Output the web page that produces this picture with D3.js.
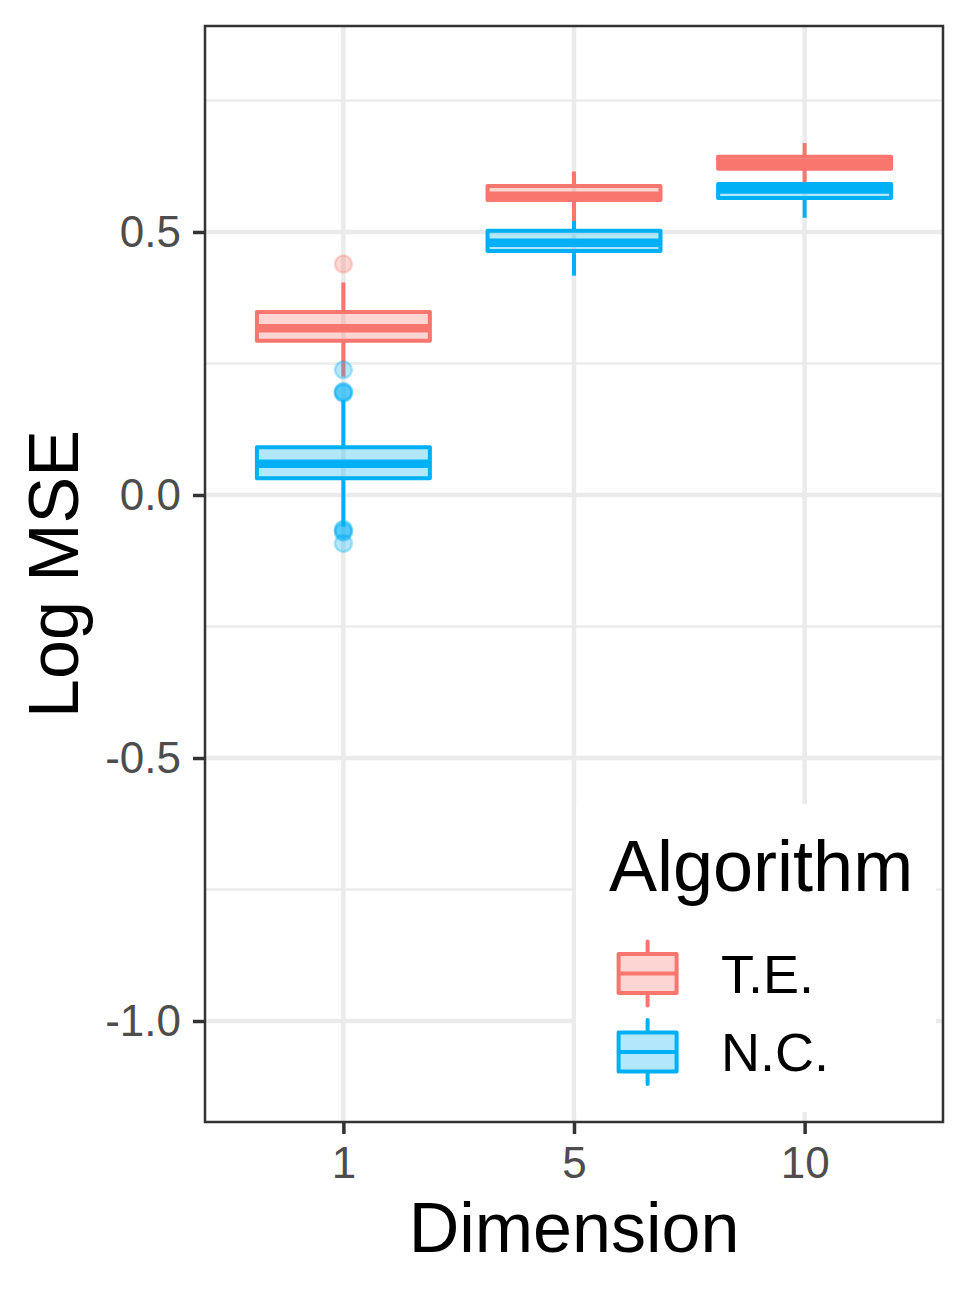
<meta charset="utf-8">
<style>
body { margin: 0; background: #fff; }
text { font-family: "Liberation Sans", Arial, sans-serif; }
.grid-major { stroke: #ebebeb; stroke-width: 4.5px; }
.grid-minor { stroke: #ebebeb; stroke-width: 2.5px; }
.axis text { fill: #4d4d4d; font-size: 44px; }
.axis line { stroke: #333333; stroke-width: 3.5px; }
.axis path { display: none; }
</style>
<body>
<script src="https://d3js.org/d3.v7.js"></script>
<script>
// data
var dimensions = ["1", "5", "10"];
var algorithms = ["T.E.", "N.C."];
var colors = ["#F8766D", "#00B0F6"];

// per dimension: [lower whisker, q1, median, q3, upper whisker]
var te_stats = [
  [0.225, 0.293, 0.317, 0.348, 0.404],
  [0.520, 0.561, 0.569, 0.5875, 0.615],
  [0.594, 0.620, 0.631, 0.643, 0.669]
];
var nc_stats = [
  [-0.060, 0.032, 0.0595, 0.091, 0.180],
  [0.417, 0.464, 0.4795, 0.5025, 0.521],
  [0.527, 0.5646, 0.581, 0.591, 0.595]
];
var te_outliers = [[0.439], [], []];
var nc_outliers = [[0.238, 0.197, 0.195, 0.193, -0.065, -0.068, -0.071, -0.092], [], []];

var major_ticks = [-1.0, -0.5, 0.0, 0.5];
var minor_ticks = [-0.75, -0.25, 0.25, 0.75];
var tick_labels = ["-1.0", "-0.5", "0.0", "0.5"];

var W = 969, H = 1292;
var panel = {left: 205, right: 943, top: 26, bottom: 1122};

var svg = d3.select("body").append("svg")
    .attr("width", W)
    .attr("height", H);

var x = d3.scalePoint()
    .domain(dimensions)
    .range([panel.left, panel.right])
    .padding(0.6);

var y = d3.scaleLinear()
    .domain([-1.192, 0.8916])
    .range([panel.bottom, panel.top]);

var boxW = x.step() * 0.75;

// gridlines
svg.append("g").selectAll("line")
    .data(minor_ticks)
  .enter().append("line")
    .attr("class", "grid-minor")
    .attr("x1", panel.left).attr("x2", panel.right)
    .attr("y1", function(d) { return y(d); })
    .attr("y2", function(d) { return y(d); });

svg.append("g").selectAll("line")
    .data(major_ticks)
  .enter().append("line")
    .attr("class", "grid-major")
    .attr("x1", panel.left).attr("x2", panel.right)
    .attr("y1", function(d) { return y(d); })
    .attr("y2", function(d) { return y(d); });

svg.append("g").selectAll("line")
    .data(dimensions)
  .enter().append("line")
    .attr("class", "grid-major")
    .attr("y1", panel.top).attr("y2", panel.bottom)
    .attr("x1", function(d) { return x(d); })
    .attr("x2", function(d) { return x(d); });

// boxplots, T.E. first then N.C.
var groups = [
  {stats: te_stats, outliers: te_outliers, color: colors[0]},
  {stats: nc_stats, outliers: nc_outliers, color: colors[1]}
];

groups.forEach(function(g) {
  var layer = svg.append("g");
  dimensions.forEach(function(dim, i) {
    var s = g.stats[i];
    var cx = x(dim);

    layer.selectAll(null)
        .data(g.outliers[i])
      .enter().append("circle")
        .attr("cx", cx)
        .attr("cy", function(d) { return y(d); })
        .attr("r", 8.5)
        .style("fill", g.color)
        .style("fill-opacity", 0.3)
        .style("stroke", g.color)
        .style("stroke-opacity", 0.3)
        .style("stroke-width", 2.5);

    // whiskers
    layer.append("line")
        .attr("x1", cx).attr("x2", cx)
        .attr("y1", y(s[3])).attr("y2", y(s[4]))
        .style("stroke", g.color).style("stroke-width", 4);
    layer.append("line")
        .attr("x1", cx).attr("x2", cx)
        .attr("y1", y(s[1])).attr("y2", y(s[0]))
        .style("stroke", g.color).style("stroke-width", 4);

    // box
    layer.append("rect")
        .attr("x", cx - boxW / 2)
        .attr("width", boxW)
        .attr("y", y(s[3]))
        .attr("height", y(s[1]) - y(s[3]))
        .style("fill", g.color)
        .style("fill-opacity", 0.3)
        .style("stroke", g.color)
        .style("stroke-width", 4)
        .style("stroke-linejoin", "round");

    // median
    layer.append("line")
        .attr("x1", cx - boxW / 2).attr("x2", cx + boxW / 2)
        .attr("y1", y(s[2])).attr("y2", y(s[2]))
        .style("stroke", g.color).style("stroke-width", 8.5);
  });
});

// panel border
svg.append("rect")
    .attr("x", panel.left).attr("y", panel.top)
    .attr("width", panel.right - panel.left)
    .attr("height", panel.bottom - panel.top)
    .style("fill", "none")
    .style("stroke", "#333333")
    .style("stroke-width", 2.5);

// axes
svg.append("g")
    .attr("class", "axis")
    .attr("transform", "translate(" + panel.left + ",0)")
    .call(d3.axisLeft(y)
      .tickValues(major_ticks)
      .tickFormat(function(d, i) { return tick_labels[i]; })
      .tickSize(12)
      .tickPadding(12));

svg.append("g")
    .attr("class", "axis")
    .attr("transform", "translate(0," + panel.bottom + ")")
    .call(d3.axisBottom(x)
      .tickSize(12)
      .tickPadding(13));

svg.selectAll(".axis text").attr("font-family", null);

// axis titles
svg.append("text")
    .attr("x", (panel.left + panel.right) / 2)
    .attr("y", 1252)
    .attr("text-anchor", "middle")
    .style("font-size", "70px")
    .style("fill", "#000")
    .text("Dimension");

svg.append("text")
    .attr("transform", "translate(78," + ((panel.top + panel.bottom) / 2) + ") rotate(-90)")
    .attr("text-anchor", "middle")
    .style("font-size", "70px")
    .style("fill", "#000")
    .text("Log MSE");

// legend
var legend = svg.append("g");

legend.append("rect")
    .attr("x", 576).attr("y", 804)
    .attr("width", 360).attr("height", 308)
    .style("fill", "#fff");

legend.append("text")
    .attr("x", 609)
    .attr("y", 891)
    .style("font-size", "72px")
    .style("fill", "#000")
    .text("Algorithm");

algorithms.forEach(function(name, i) {
  var cy = 973.5 + i * 78.5;
  var kx = 647.6;
  var c = colors[i];
  var key = legend.append("g");
  key.append("line")
      .attr("x1", kx).attr("x2", kx)
      .attr("y1", cy - 32).attr("y2", cy + 32)
      .style("stroke", c).style("stroke-width", 4)
      .style("stroke-linecap", "round");
  key.append("rect")
      .attr("x", kx - 29).attr("y", cy - 19.5)
      .attr("width", 58).attr("height", 39)
      .style("fill", "#fff")
      .style("stroke", "none");
  key.append("rect")
      .attr("x", kx - 29).attr("y", cy - 19.5)
      .attr("width", 58).attr("height", 39)
      .style("fill", c)
      .style("fill-opacity", 0.3)
      .style("stroke", c)
      .style("stroke-width", 4)
      .style("stroke-linejoin", "round");
  key.append("line")
      .attr("x1", kx - 29).attr("x2", kx + 29)
      .attr("y1", cy).attr("y2", cy)
      .style("stroke", c).style("stroke-width", 4);
  legend.append("text")
      .attr("x", 721)
      .attr("y", cy + 19)
      .style("font-size", "54px")
      .style("fill", "#000")
      .text(name);
});
</script>
</body>
